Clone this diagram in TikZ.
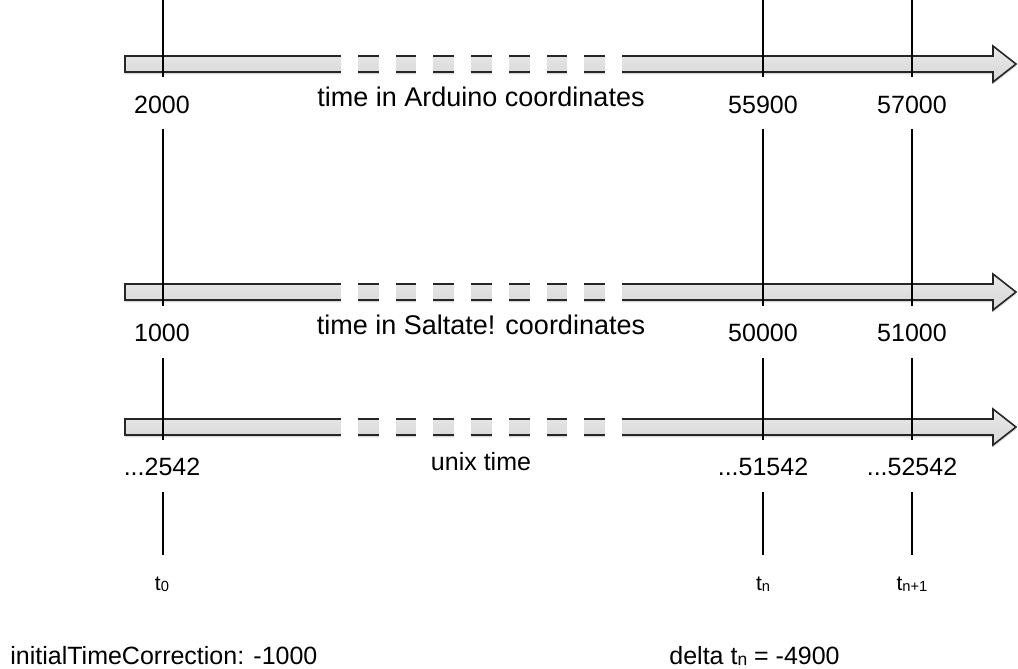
\documentclass[tikz,border=0pt]{standalone}
\usepackage{fontspec}
\setmainfont{Liberation Sans}
\usetikzlibrary{shadows}

\tikzset{
  timebar/.style={top color=gray!15, bottom color=gray!30, middle color=gray!25,
    draw=gray!30!black, line width=0.8pt,
    drop shadow={shadow xshift=0pt, shadow yshift=-1.2pt, opacity=.3}},
  tick/.style={line width=0.85pt},
  lbl/.style={font=\fontsize{12.5}{15}\selectfont, inner sep=0pt, anchor=base},
  axislbl/.style={lbl, font=\fontsize{13.5}{16}\selectfont},
  tlbl/.style={lbl, font=\fontsize{10.5}{12}\selectfont},
}
\newcommand{\lowidx}[1]{\raisebox{-0.6pt}{\scalebox{0.7}{#1}}}

\begin{document}
\begin{tikzpicture}[x=0.5pt,y=-0.5pt]
\useasboundingbox (0,0) rectangle (1018,669);

% three time axes, broken in the middle
\foreach \c in {64,292,427}{
  \draw[timebar] (125,\c-8) -- (993,\c-8) -- (993,\c-18) -- (1016,\c)
    -- (993,\c+18) -- (993,\c+8) -- (125,\c+8) -- cycle;
  \foreach \i in {0,...,7}
    \fill[white] (341+37.7*\i,\c-12) rectangle ++(17,26);
}

% ticks
\foreach \x in {163,763,912}{
  \draw[tick] (\x,0) -- (\x,77);
  \draw[tick] (\x,129) -- (\x,306);
  \draw[tick] (\x,358) -- (\x,440);
  \draw[tick] (\x,492) -- (\x,555);
}

% arduino time
\node[lbl] (ard0) at (162,113) {2000};
\node[axislbl] (ardname) at (481,106) {time in Arduino coordinates};
\node[lbl] (ardn) at (763,113) {55900};
\node[lbl] (ardm) at (912,113) {57000};

% saltate time
\node[lbl] (sal0) at (162,341) {1000};
\node[axislbl] (salname) at (481,334) {time in Saltate! coordinates};
\node[lbl] (saln) at (763,341) {50000};
\node[lbl] (salm) at (912,341) {51000};

% unix time
\node[lbl] (unix0) at (162,475) {...2542};
\node[lbl] (unixname) at (481,470) {unix time};
\node[lbl] (unixn) at (763,475) {...51542};
\node[lbl] (unixm) at (912,475) {...52542};

% sample points
\node[tlbl] (t0) at (162,590) {t\lowidx{0}};
\node[tlbl] (tn) at (763,590) {t\lowidx{n}};
\node[tlbl] (tm) at (912,590) {t\lowidx{n+1}};

\node[lbl, anchor=base west] (corr) at (10,664) {initialTimeCorrection: -1000};
\node[lbl, anchor=base west] (delta) at (669,664) {delta t\lowidx{n} = -4900};
\end{tikzpicture}
\end{document}
